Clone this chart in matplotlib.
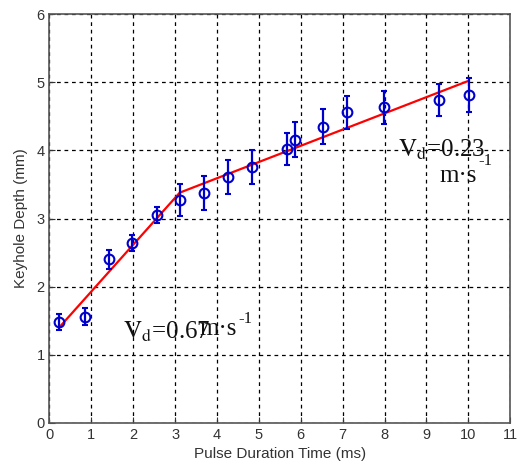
import matplotlib
matplotlib.use("Agg")
import matplotlib.pyplot as plt
import numpy as np

# measured keyhole depth vs pulse duration
t = [0.23, 0.85, 1.41, 1.98, 2.56, 3.11, 3.69, 4.27, 4.83, 5.68, 5.87, 6.53, 7.11, 7.99, 9.30, 10.01]
depth = [1.48, 1.56, 2.40, 2.64, 3.05, 3.27, 3.37, 3.61, 3.75, 4.02, 4.16, 4.35, 4.56, 4.63, 4.74, 4.81]
err = [0.12, 0.12, 0.14, 0.12, 0.12, 0.23, 0.25, 0.25, 0.25, 0.24, 0.25, 0.26, 0.24, 0.24, 0.24, 0.25]

# fitted piecewise line
fit_t = [0.23, 3.11, 10.0]
fit_d = [1.40, 3.38, 5.02]

plt.rcParams['mathtext.fontset'] = 'stix'

fig = plt.figure(figsize=(5.32, 4.72), dpi=100)
ax = fig.add_axes([0.093, 0.104, 0.866, 0.866])

ax.plot(fit_t, fit_d, color='red', lw=1.6, zorder=2)
ax.errorbar(t, depth, yerr=err, fmt='o', mfc='none', mec='#0000cc', ecolor='#0000cc',
            color='#0000cc', ms=7, mew=1.5, elinewidth=1.6, capsize=2.5, capthick=1.4, zorder=3)

ax.set_xlim(0, 11)
ax.set_ylim(0, 6)
ax.set_xticks(range(0, 12))
ax.set_yticks(range(0, 7))
ax.grid(True, color='black', linestyle=(0, (3, 3)), lw=0.9)
ax.tick_params(direction='in', length=4, labelsize=10.5, colors='#333333')
for lab in ax.get_xticklabels() + ax.get_yticklabels():
    lab.set_family('Liberation Sans')
for s in ax.spines.values():
    s.set_color('#555555')
    s.set_linewidth(1.2)

ax.set_xlabel('Pulse Duration Time (ms)', family='Liberation Sans', fontsize=11, color='#333333', labelpad=4)
ax.set_ylabel('Keyhole Depth (mm)', family='Liberation Sans', fontsize=11, color='#333333', labelpad=6)

serif = dict(family='Liberation Serif', color='#111111')
ax.text(1.76, 1.24, r'$\mathrm{V_d}$=0.67', fontsize=18, **serif)
ax.text(3.59, 1.29, 'm\u00b7s', fontsize=18, **serif)
ax.annotate('-1', xy=(3.59, 1.29), xytext=(28, 9), textcoords='offset points', fontsize=12, **serif)
ax.text(8.32, 3.91, r'$\mathrm{V_d}$=0.23', fontsize=18, **serif)
ax.text(9.32, 3.54, 'm\u00b7s', fontsize=18, **serif)
ax.annotate('-1', xy=(9.32, 3.54), xytext=(28, 12), textcoords='offset points', fontsize=12, **serif)

fig.savefig('out.png', dpi=100)
